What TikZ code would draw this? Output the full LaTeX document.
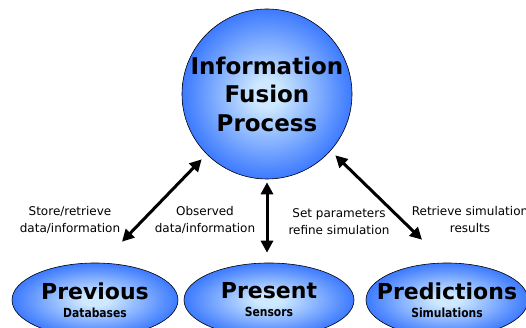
\documentclass[tikz,border=0pt]{standalone}
\usepackage{fontspec}
\setmainfont{DejaVu Sans}
\newfontfamily\narrowsans[FakeStretch=0.86]{DejaVu Sans}
\usepackage{tikz}
\usetikzlibrary{shapes.geometric,arrows.meta}

\definecolor{glowin}{RGB}{205,232,255}
\definecolor{glowout}{RGB}{12,85,255}
\pgfdeclareradialshading{glow}{\pgfpoint{0bp}{0bp}}{color(0bp)=(glowin); color(4bp)=(glowin); color(32bp)=(glowout); color(50bp)=(glowout)}

\begin{document}
\begin{tikzpicture}[x=1pt,y=1pt,
  bubble/.style={draw=black, line width=0.6pt, shade, shading=glow, inner sep=0pt},
  big title/.style={align=center, font=\fontsize{23}{28.5}\selectfont\bfseries},
  small title/.style={align=center, font=\fontsize{22}{18}\selectfont\bfseries},
  sub/.style={font=\narrowsans\bfseries\fontsize{12.5}{18}\selectfont},
  link/.style={{Triangle[length=12pt,width=12pt]}-{Triangle[length=12pt,width=12pt]}, line width=3pt},
  note/.style={align=center, font=\fontsize{12}{17}\selectfont},
  ]
  \useasboundingbox (0,0) rectangle (526,328);
  % the process in the middle
  \node[bubble, circle, minimum size=170pt,
    label={[big title]center:Information\\Fusion\\Process}] (fusion) at (267,234) {};
  % the three sources
  \node[bubble, ellipse, minimum width=166pt, minimum height=74pt,
    label={[small title]center:Previous\\{\narrowsans\fontsize{12.5}{18}\selectfont Databases}}] (previous) at (95,28) {};
  \node[bubble, ellipse, minimum width=170pt, minimum height=74pt,
    label={[small title]center:Present\\{\narrowsans\fontsize{12.5}{18}\selectfont Sensors}}] (present) at (269,28) {};
  \node[bubble, ellipse, minimum width=162pt, minimum height=74pt,
    label={[small title]center:Predictions\\{\narrowsans\fontsize{12.5}{18}\selectfont Simulations}}] (predictions) at (447,28) {};
  % two-way links
  \draw[link] ([shift={(-5,-5)}]fusion.225) -- ([shift={(27,21)}]previous.north);
  \draw[link] ([yshift=-3pt]fusion.south) -- ([yshift=10pt]fusion.south |- present.north);
  \draw[link] ([shift={(8,-1)}]fusion.-45) -- ([shift={(-25,23)}]predictions.north);
  % what flows along them
  \node[note] (storelbl) at (70,108) {Store/retrieve\\data/information};
  \node[note] (obslbl) at (205,108) {Observed\\data/information};
  \node[note] (setlbl) at (339,106) {Set parameters\\refine simulation};
  \node[note] (simlbl) at (470,108) {Retrieve simulation\\results};
\end{tikzpicture}
\end{document}
